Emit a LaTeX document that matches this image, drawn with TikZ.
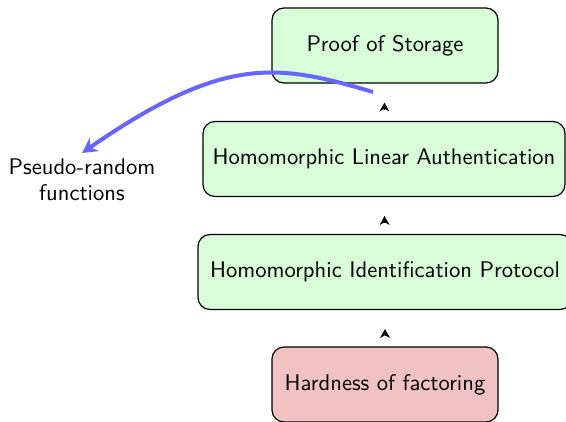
\documentclass[tikz,border=0pt]{standalone}
\usetikzlibrary{arrows.meta}
\definecolor{boxgreen}{RGB}{217,253,217}
\definecolor{boxred}{RGB}{240,194,194}
\definecolor{linkblue}{RGB}{102,102,255}
% labels are set at 10pt design size and enlarged
\newcommand\lbl[1]{\scalebox{2.26}{\sffamily\fontsize{10}{11.5}\selectfont #1}}
\begin{document}
\begin{tikzpicture}[x=1pt,y=-1pt,
  block/.style={draw=black, line width=1.2pt, rounded corners=12pt,
    minimum height=75pt, inner sep=0pt, text=black},
  goodblock/.style={block, fill=boxgreen},
  badblock/.style={block, fill=boxred},
  implies/.style={-{Stealth[length=9pt,width=10pt,inset=3pt]}, line width=0.8pt,
    shorten <=11pt, shorten >=19pt},
  uses/.style={-{Stealth[length=15pt,width=16pt,inset=5pt]}, draw=linkblue,
    line width=4pt}
]
\useasboundingbox (0,0) rectangle (566,422);

\node[goodblock, minimum width=226pt] (pos)  at (385,45.5)  {\lbl{Proof of Storage}};
\node[goodblock, minimum width=362pt] (hla)  at (384,159)   {\lbl{Homomorphic Linear Authentication}};
\node[goodblock, minimum width=374pt] (hip)  at (385,272)   {\lbl{Homomorphic Identification Protocol}};
\node[badblock,  minimum width=226pt] (fact) at (385,384.5) {\lbl{Hardness of factoring}};

\node[anchor=north, inner sep=3pt] (prf) at (82,153)
  {\lbl{\begin{tabular}{@{}c@{}}Pseudo-random\\functions\end{tabular}}};

% reductions, drawn as bare arrow heads in each gap
\draw[implies] (fact) -- (hip);
\draw[implies] (hip) -- (hla);
\draw[implies] (hla) -- (pos);

% the MAC layer relies on pseudo-random functions
\coordinate (bend) at (373,92);
\draw[uses] (bend) .. controls (278,64) and (225,54) .. (prf.north);
\end{tikzpicture}
\end{document}
